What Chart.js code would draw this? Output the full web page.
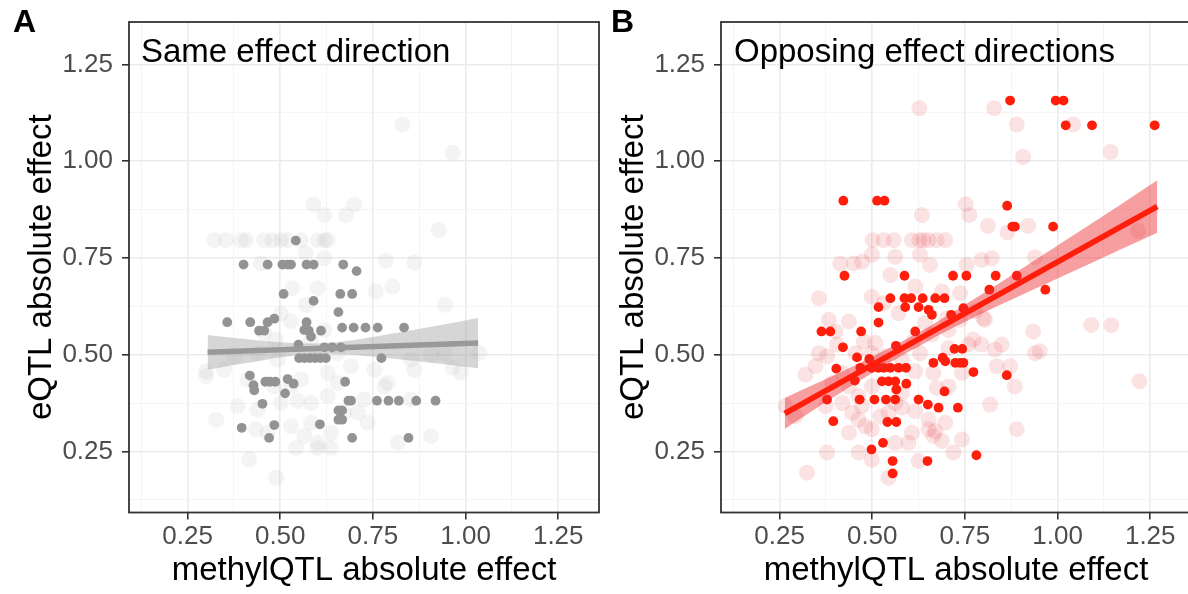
<!DOCTYPE html>
<html>
<head>
<meta charset="utf-8">
<script src="https://cdn.jsdelivr.net/npm/chart.js@4.4.1/dist/chart.umd.min.js"></script>
<style>
    html, body { margin: 0; padding: 0; width: 1188px; height: 594px; overflow: hidden; background: #fff; }
    .panel { position: absolute; top: 0; width: 600px; height: 594px; }
    #panelA { left: 0; }
    #panelB { left: 592px; }
</style>
</head>
<body>
<div class="panel" id="panelA"><canvas id="chartA" width="600" height="594"></canvas></div>
<div class="panel" id="panelB"><canvas id="chartB" width="600" height="594"></canvas></div>
<script>
// Axis values (both panels share the same limits)
const axisMin = 0.092;
const axisMax = 1.36;
const tickValues = [0.25, 0.5, 0.75, 1.0, 1.25];
const tickLabels = ['0.25', '0.50', '0.75', '1.00', '1.25'];
const minorValues = [0.125, 0.375, 0.625, 0.875, 1.125];

// Panel A: same effect direction
const sameFaint = [
    [0.830, 1.095], [0.965, 1.022], [0.589, 0.888], [0.700, 0.888], [0.619, 0.861], [0.677, 0.861], [0.927, 0.822],
    [0.322, 0.796], [0.354, 0.796], [0.394, 0.796], [0.408, 0.796], [0.457, 0.796], [0.479, 0.796], [0.502, 0.796],
    [0.520, 0.796], [0.556, 0.796], [0.601, 0.796], [0.619, 0.796], [0.628, 0.796],
    [0.569, 0.762], [0.619, 0.749], [0.448, 0.736], [0.785, 0.743], [0.862, 0.738],
    [0.533, 0.672], [0.601, 0.672], [0.758, 0.663], [0.803, 0.676], [0.569, 0.629], [0.945, 0.629],
    [0.300, 0.444], [0.349, 0.461], [0.300, 0.457], [0.327, 0.332], [0.385, 0.367], [0.416, 0.229], [0.489, 0.182],
    [0.543, 0.259], [0.601, 0.259], [0.637, 0.259], [0.817, 0.272], [0.907, 0.289],
    [0.736, 0.324], [0.781, 0.418], [0.754, 0.461], [0.853, 0.487], [0.965, 0.466], [1.037, 0.504], [0.907, 0.500],
    [0.727, 0.384], [0.853, 0.384],
    [0.488, 0.539], [0.529, 0.586], [0.493, 0.487], [0.502, 0.375], [0.439, 0.358], [0.434, 0.307], [0.466, 0.298],
    [0.529, 0.315], [0.565, 0.290], [0.547, 0.380], [0.583, 0.375], [0.628, 0.393], [0.655, 0.427], [0.628, 0.453],
    [0.691, 0.470], [0.655, 0.504], [0.709, 0.350], [0.376, 0.496], [0.412, 0.436], [0.439, 0.504], [0.556, 0.436],
    [0.529, 0.418], [0.601, 0.504], [0.484, 0.418], [0.583, 0.539], [0.619, 0.564], [0.502, 0.607], [0.457, 0.556],
    [0.583, 0.324], [0.637, 0.298], [0.673, 0.350], [0.790, 0.427], [0.943, 0.504], [0.987, 0.453], [0.862, 0.461],
    [0.601, 0.272]
];
const samePoints = [
    [0.542, 0.795],
    [0.401, 0.733], [0.466, 0.733], [0.506, 0.733], [0.520, 0.733], [0.529, 0.733], [0.571, 0.733], [0.590, 0.733], [0.670, 0.733],
    [0.706, 0.716], [0.509, 0.657], [0.662, 0.657], [0.694, 0.657], [0.590, 0.639], [0.657, 0.610],
    [0.357, 0.584], [0.419, 0.584], [0.466, 0.584], [0.484, 0.593], [0.571, 0.584], [0.443, 0.562], [0.457, 0.562],
    [0.565, 0.564], [0.583, 0.547], [0.577, 0.562], [0.610, 0.562],
    [0.667, 0.570], [0.698, 0.570], [0.730, 0.570], [0.763, 0.570], [0.834, 0.570],
    [0.549, 0.526], [0.619, 0.519], [0.640, 0.519], [0.664, 0.519],
    [0.551, 0.491], [0.565, 0.491], [0.580, 0.491], [0.594, 0.491], [0.608, 0.491], [0.623, 0.491], [0.773, 0.491],
    [0.418, 0.446], [0.428, 0.421], [0.430, 0.408], [0.460, 0.430], [0.472, 0.430], [0.487, 0.430],
    [0.520, 0.437], [0.536, 0.425], [0.513, 0.400], [0.675, 0.430], [0.452, 0.373],
    [0.684, 0.381], [0.691, 0.381], [0.761, 0.381], [0.792, 0.381], [0.820, 0.381], [0.867, 0.381], [0.919, 0.381],
    [0.657, 0.356], [0.667, 0.356], [0.657, 0.332], [0.667, 0.332],
    [0.396, 0.311], [0.484, 0.318], [0.607, 0.320], [0.470, 0.285], [0.694, 0.285], [0.846, 0.285]
];
const sameFitX = [0.304, 1.034];
const sameFitY = [0.506, 0.530];
const sameBandX = [0.304, 0.40, 0.50, 0.60, 0.70, 0.80, 0.90, 1.034];
const sameBandUpper = [0.551, 0.541, 0.532, 0.529, 0.538, 0.554, 0.571, 0.595];
const sameBandLower = [0.461, 0.477, 0.493, 0.503, 0.499, 0.490, 0.480, 0.465];

// Panel B: opposing effect directions
const oppFaint = [
    [0.627, 1.137], [0.829, 1.137], [0.890, 1.095], [1.042, 1.095], [0.907, 1.011], [1.143, 1.024],
    [0.752, 0.889], [0.762, 0.861], [0.634, 0.861], [0.812, 0.833], [0.865, 0.816], [0.921, 0.833], [1.217, 0.820],
    [0.501, 0.796], [0.531, 0.796], [0.558, 0.796], [0.607, 0.796], [0.627, 0.796], [0.638, 0.796], [0.652, 0.796],
    [0.674, 0.796], [0.697, 0.796],
    [0.562, 0.753], [0.629, 0.758], [0.499, 0.758], [0.414, 0.735], [0.450, 0.736], [0.473, 0.740], [0.656, 0.732],
    [0.755, 0.732], [0.795, 0.745], [0.822, 0.749], [0.939, 0.752],
    [0.549, 0.706], [0.616, 0.676], [0.688, 0.663], [0.737, 0.659], [0.499, 0.650], [0.531, 0.633], [0.571, 0.607],
    [0.643, 0.582], [0.701, 0.594], [0.777, 0.612], [0.800, 0.594], [0.706, 0.564],
    [0.356, 0.646], [0.383, 0.590], [0.437, 0.586], [0.405, 0.526], [0.356, 0.504], [0.378, 0.496], [0.320, 0.448],
    [0.347, 0.470], [0.293, 0.341], [0.266, 0.367], [0.374, 0.367], [0.419, 0.375], [0.446, 0.350], [0.463, 0.332],
    [0.481, 0.315], [0.499, 0.307], [0.437, 0.298], [0.522, 0.341], [0.544, 0.350], [0.580, 0.363], [0.616, 0.354],
    [0.652, 0.332], [0.670, 0.302], [0.697, 0.324], [0.719, 0.247], [0.742, 0.281], [0.688, 0.277],
    [0.598, 0.272], [0.562, 0.272], [0.499, 0.229], [0.463, 0.247], [0.378, 0.247], [0.324, 0.195], [0.544, 0.182],
    [0.625, 0.225], [0.652, 0.307], [0.818, 0.371], [0.890, 0.307], [0.885, 0.418], [0.872, 0.470], [0.952, 0.509],
    [0.934, 0.560], [1.221, 0.431], [0.836, 0.470], [0.849, 0.526], [0.795, 0.526], [0.760, 0.526], [0.706, 0.517],
    [0.629, 0.504], [0.616, 0.457], [0.665, 0.453], [0.742, 0.453], [0.706, 0.418], [0.674, 0.414], [0.580, 0.487],
    [0.508, 0.530], [0.477, 0.534], [0.535, 0.496], [0.611, 0.534], [0.661, 0.552], [0.773, 0.539], [0.804, 0.590],
    [0.737, 0.590], [1.091, 0.577], [1.145, 0.576],
    [0.463, 0.393], [0.419, 0.453], [0.455, 0.504], [0.499, 0.418], [0.580, 0.401], [0.472, 0.367], [0.437, 0.418],
    [0.392, 0.427], [0.607, 0.298], [0.665, 0.290], [0.831, 0.513], [0.939, 0.504], [0.562, 0.375], [0.401, 0.560],
    [0.499, 0.504]
];
const oppPoints = [
    [0.872, 1.157], [0.995, 1.157], [1.016, 1.157], [1.022, 1.093], [1.093, 1.093], [1.262, 1.093],
    [0.422, 0.898], [0.513, 0.898], [0.533, 0.898], [0.864, 0.885], [0.878, 0.831], [0.885, 0.831], [0.988, 0.831],
    [0.425, 0.704], [0.587, 0.704], [0.718, 0.704], [0.754, 0.704], [0.833, 0.704], [0.890, 0.704],
    [0.816, 0.668], [0.967, 0.668],
    [0.549, 0.646], [0.587, 0.646], [0.605, 0.646], [0.636, 0.646], [0.670, 0.646], [0.695, 0.646],
    [0.517, 0.623], [0.589, 0.623], [0.625, 0.623], [0.652, 0.616], [0.661, 0.603], [0.713, 0.603], [0.746, 0.620],
    [0.517, 0.583], [0.363, 0.560], [0.387, 0.560], [0.470, 0.560], [0.616, 0.560],
    [0.421, 0.519], [0.564, 0.523], [0.459, 0.493], [0.492, 0.489], [0.403, 0.464],
    [0.468, 0.466], [0.499, 0.466], [0.517, 0.466], [0.531, 0.466], [0.549, 0.466], [0.571, 0.466], [0.591, 0.466],
    [0.453, 0.433], [0.526, 0.431], [0.544, 0.431], [0.562, 0.431], [0.592, 0.425], [0.565, 0.410],
    [0.665, 0.479], [0.690, 0.492], [0.697, 0.483], [0.722, 0.515], [0.743, 0.515], [0.724, 0.479], [0.737, 0.479],
    [0.746, 0.479], [0.773, 0.455], [0.863, 0.447],
    [0.378, 0.384], [0.466, 0.384], [0.506, 0.384], [0.537, 0.384], [0.562, 0.384],
    [0.625, 0.384], [0.650, 0.371], [0.679, 0.363], [0.731, 0.363], [0.695, 0.405],
    [0.395, 0.328], [0.541, 0.326], [0.565, 0.326],
    [0.529, 0.272], [0.498, 0.255], [0.555, 0.225], [0.649, 0.225], [0.781, 0.240], [0.555, 0.193]
];
const oppFitX = [0.264, 1.269];
const oppFitY = [0.348, 0.883];
const oppBandX = [0.264, 0.35, 0.45, 0.55, 0.65, 0.75, 0.85, 0.95, 1.05, 1.15, 1.269];
const oppBandUpper = [0.388, 0.426, 0.471, 0.519, 0.571, 0.629, 0.689, 0.751, 0.813, 0.875, 0.951];
const oppBandLower = [0.308, 0.362, 0.423, 0.481, 0.535, 0.585, 0.631, 0.675, 0.719, 0.763, 0.815];

const fontFamily = '"Liberation Sans", Arial, Helvetica, sans-serif';
const gridValues = [...tickValues, ...minorValues].sort((a, b) => a - b);

// Turn [x, y] pairs or parallel arrays into Chart.js points
function toPoints(pairs) {
    return pairs.map(p => ({ x: p[0], y: p[1] }));
}
function zipPoints(xs, ys) {
    return xs.map((x, i) => ({ x: x, y: ys[i] }));
}

// Function to build one ggplot-like axis
function buildAxis(horizontal, title) {
    const isMajor = ctx => ctx.tick && tickValues.includes(ctx.tick.value);
    return {
        type: 'linear',
        min: axisMin,
        max: axisMax,
        afterBuildTicks: scale => {
            scale.ticks = gridValues.map(v => ({ value: v }));
        },
        afterFit: scale => {
            // fixed axis sizes, and no extra room for the end labels
            if (horizontal) {
                scale.height = 81.5;
            } else {
                scale.width = 129;
            }
            scale.paddingLeft = 0;
            scale.paddingRight = 0;
            scale.paddingTop = 0;
            scale.paddingBottom = 0;
        },
        border: { display: false },
        grid: {
            color: ctx => isMajor(ctx) ? '#ebebeb' : '#f4f4f4',
            lineWidth: ctx => isMajor(ctx) ? 1.6 : 0.9,
            tickColor: ctx => isMajor(ctx) ? '#333333' : 'rgba(0,0,0,0)',
            tickWidth: 1.6,
            tickLength: 7,
            drawTicks: true
        },
        ticks: {
            autoSkip: false,
            maxRotation: 0,
            color: '#4d4d4d',
            padding: horizontal ? 4 : 9,
            font: { family: fontFamily, size: 26, lineHeight: 1 },
            callback: value => {
                const i = tickValues.indexOf(value);
                return i >= 0 ? tickLabels[i] : '';
            }
        },
        title: {
            display: true,
            text: title,
            color: '#000000',
            font: { family: fontFamily, size: 33, lineHeight: 1 },
            padding: horizontal ? { top: 0, bottom: 7 } : { top: 25, bottom: 0 }
        }
    };
}

// Plugin for the panel tag, the caption inside the panel and the panel border
const panelDecor = {
    id: 'panelDecor',
    afterDraw(chart, args, opts) {
        const { ctx, chartArea } = chart;
        ctx.save();
        ctx.strokeStyle = '#333333';
        ctx.lineWidth = 1.8;
        ctx.strokeRect(chartArea.left, chartArea.top, chartArea.right - chartArea.left, chartArea.bottom - chartArea.top);
        ctx.fillStyle = '#000000';
        ctx.textBaseline = 'alphabetic';
        ctx.textAlign = 'left';
        ctx.font = 'bold 32px ' + fontFamily;
        ctx.fillText(opts.tag, opts.tagX, 32);
        ctx.font = '33px ' + fontFamily;
        ctx.fillText(opts.caption, chartArea.left + opts.captionDx, 62);
        ctx.restore();
    }
};

// Function to render one panel
function renderPanel(canvasId, p) {
    const ctx = document.getElementById(canvasId).getContext('2d');
    return new Chart(ctx, {
        type: 'scatter',
        data: {
            datasets: [
                {
                    type: 'line',
                    data: zipPoints(p.fitX, p.fitY),
                    borderColor: p.lineColor,
                    borderWidth: 5.5,
                    pointRadius: 0,
                    fill: false
                },
                {
                    type: 'line',
                    data: zipPoints(p.bandX, p.bandUpper),
                    borderWidth: 0,
                    borderColor: 'rgba(0,0,0,0)',
                    backgroundColor: p.bandColor,
                    pointRadius: 0,
                    tension: 0.3,
                    fill: '+1'
                },
                {
                    type: 'line',
                    data: zipPoints(p.bandX, p.bandLower),
                    borderWidth: 0,
                    borderColor: 'rgba(0,0,0,0)',
                    pointRadius: 0,
                    tension: 0.3,
                    fill: false
                },
                {
                    data: toPoints(p.points),
                    backgroundColor: p.pointColor,
                    borderWidth: 0,
                    pointRadius: 4.9
                },
                {
                    data: toPoints(p.faint),
                    backgroundColor: p.faintColor,
                    borderWidth: 0,
                    pointRadius: 8
                }
            ]
        },
        options: {
            responsive: false,
            animation: false,
            devicePixelRatio: 1,
            // no automatic room for point overflow, the plot box is fixed
            layout: { autoPadding: false, padding: { left: 0, right: 1, top: 22, bottom: 0 } },
            plugins: {
                legend: { display: false },
                tooltip: { enabled: false },
                panelDecor: { tag: p.tag, tagX: p.tagX, caption: p.caption, captionDx: p.captionDx }
            },
            scales: {
                x: buildAxis(true, 'methylQTL absolute effect'),
                y: buildAxis(false, 'eQTL absolute effect')
            }
        },
        plugins: [panelDecor]
    });
}

renderPanel('chartA', {
    tag: 'A', tagX: 13, caption: 'Same effect direction', captionDx: 12,
    faint: sameFaint, points: samePoints,
    fitX: sameFitX, fitY: sameFitY,
    bandX: sameBandX, bandUpper: sameBandUpper, bandLower: sameBandLower,
    faintColor: 'rgba(150,150,150,0.1)', pointColor: '#939393',
    lineColor: '#999999', bandColor: 'rgba(153,153,153,0.4)'
});

renderPanel('chartB', {
    tag: 'B', tagX: 19, caption: 'Opposing effect directions', captionDx: 13,
    faint: oppFaint, points: oppPoints,
    fitX: oppFitX, fitY: oppFitY,
    bandX: oppBandX, bandUpper: oppBandUpper, bandLower: oppBandLower,
    faintColor: 'rgba(225,40,50,0.13)', pointColor: '#ff1e0c',
    lineColor: '#ff1e0c', bandColor: 'rgba(235,40,45,0.45)'
});
</script>
</body>
</html>
